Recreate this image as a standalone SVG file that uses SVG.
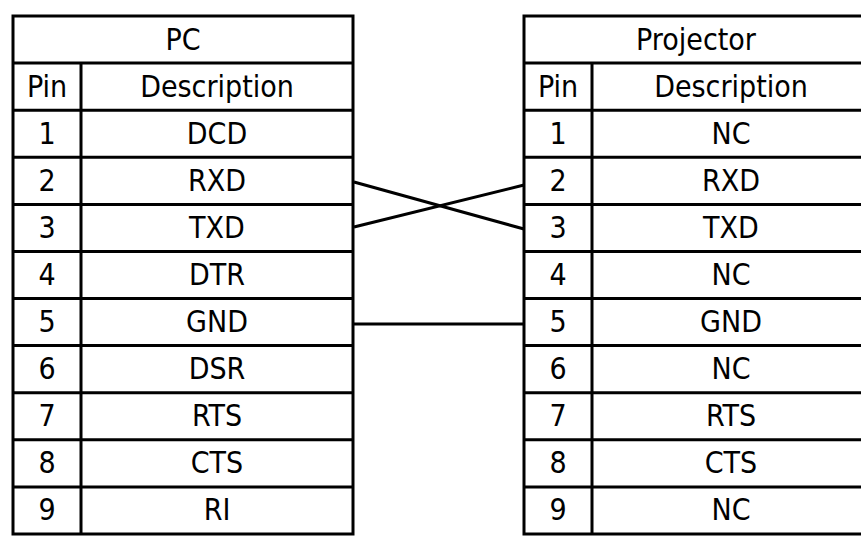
<svg xmlns="http://www.w3.org/2000/svg" width="861" height="536" viewBox="0 0 861 536">
<style>
.grid{stroke:#000;stroke-width:3;fill:none}
.wire{stroke:#000;stroke-width:3;fill:none}
text{font-family:'DejaVu Sans Condensed','DejaVu Sans',sans-serif;font-stretch:condensed;font-size:30px;fill:#000;text-anchor:middle}
</style>
<rect width="861" height="536" fill="#fff"/>
<g id="pc">
<rect class="grid" x="13" y="16" width="340" height="518"/>
<path class="grid" d="M13 63.1H353M13 110.2H353M13 157.3H353M13 204.4H353M13 251.5H353M13 298.5H353M13 345.6H353M13 392.7H353M13 439.8H353M13 486.9H353M81 63.1V534"/>
<text x="183" y="50">PC</text>
<text x="47" y="97">Pin</text><text x="217" y="97">Description</text>
<text x="47" y="144">1</text><text x="217" y="144">DCD</text>
<text x="47" y="191">2</text><text x="217" y="191">RXD</text>
<text x="47" y="238">3</text><text x="217" y="238">TXD</text>
<text x="47" y="285">4</text><text x="217" y="285">DTR</text>
<text x="47" y="332">5</text><text x="217" y="332">GND</text>
<text x="47" y="379">6</text><text x="217" y="379">DSR</text>
<text x="47" y="426">7</text><text x="217" y="426">RTS</text>
<text x="47" y="473">8</text><text x="217" y="473">CTS</text>
<text x="47" y="520">9</text><text x="217" y="520">RI</text>
</g>
<g id="projector">
<rect class="grid" x="524" y="16" width="340" height="518"/>
<path class="grid" d="M524 63.1H864M524 110.2H864M524 157.3H864M524 204.4H864M524 251.5H864M524 298.5H864M524 345.6H864M524 392.7H864M524 439.8H864M524 486.9H864M592 63.1V534"/>
<text x="696" y="50">Projector</text>
<text x="558" y="97">Pin</text><text x="731" y="97">Description</text>
<text x="558" y="144">1</text><text x="731" y="144">NC</text>
<text x="558" y="191">2</text><text x="731" y="191">RXD</text>
<text x="558" y="238">3</text><text x="731" y="238">TXD</text>
<text x="558" y="285">4</text><text x="731" y="285">NC</text>
<text x="558" y="332">5</text><text x="731" y="332">GND</text>
<text x="558" y="379">6</text><text x="731" y="379">NC</text>
<text x="558" y="426">7</text><text x="731" y="426">RTS</text>
<text x="558" y="473">8</text><text x="731" y="473">CTS</text>
<text x="558" y="520">9</text><text x="731" y="520">NC</text>
</g>
<g id="connectors">
<line class="wire" x1="354" y1="182" x2="524" y2="229"/>
<line class="wire" x1="354" y1="227" x2="524" y2="185"/>
<line class="wire" x1="354" y1="324" x2="524" y2="324"/>
</g>
</svg>
